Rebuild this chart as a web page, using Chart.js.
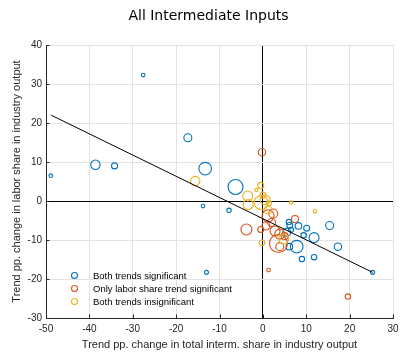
<!DOCTYPE html>
<html>
<head>
<meta charset="utf-8">
<script src="https://cdn.jsdelivr.net/npm/chart.js@4/dist/chart.umd.min.js"></script>
<style>
html,body{margin:0;padding:0;background:#fff;}
#wrap{width:401px;height:352px;position:relative;}
</style>
</head>
<body>
<div id="wrap"><canvas id="c" width="401" height="352"></canvas></div>
<script>
// ---- data ----
const chartTitle = "All Intermediate Inputs";
const xTitle = "Trend pp. change in total interm. share in industry output";
const yTitle = "Trend pp. change in labor share in industry output";
const seriesLabels = ["Both trends significant", "Only labor share trend significant", "Both trends insignificant"];
const seriesColors = ["#0072BD", "#D95319", "#EDB120"];

// Both trends significant
const sigX = [-48.9, -27.6, -17.3, -38.6, -34.2, -13.3, -13.8, -6.3, -7.8, 6.0, 6.2, 8.2, 10.1, 15.4, 6.5, 9.4, 11.8, 7.8, 6.1, 17.3, 9.0, 11.8, -13.0, 25.3, 5.5];
const sigY = [6.5, 32.3, 16.2, 9.3, 9.0, 8.3, -1.3, 3.6, -2.4, -5.4, -6.2, -6.4, -7.0, -6.3, -7.4, -8.8, -9.4, -11.7, -11.7, -11.7, -14.9, -14.4, -18.3, -18.3, -8.0];
const sigSize = [1.8, 1.8, 4.0, 4.7, 3.0, 6.3, 1.8, 7.5, 2.2, 2.7, 3.0, 3.3, 3.0, 4.0, 2.5, 2.7, 5.0, 6.3, 3.3, 3.7, 2.7, 2.7, 2.0, 2.0, 4.0];

// Only labor share trend significant
const labX = [-0.2, 2.4, 1.2, 7.4, 0.7, -3.8, -0.5, 2.8, 3.9, 3.6, 3.9, 1.3, 19.6, 5.0, 2.0];
const labY = [12.5, -3.2, -3.8, -4.6, -6.4, -7.3, -7.3, -7.7, -8.5, -10.9, -11.7, -17.7, -24.5, -9.0, -5.5];
const labSize = [3.7, 4.5, 6.0, 3.5, 4.0, 5.5, 3.0, 5.0, 5.0, 9.0, 4.0, 1.8, 2.7, 3.5, 4.0];

// Both trends insignificant
const insX = [-15.6, -0.5, -1.5, -3.5, -3.4, -0.4, 0.5, 1.4, 6.5, 12.0, 1.2, 4.8, -0.2, 0.0];
const insY = [5.1, 4.0, 2.8, 1.3, -0.9, -0.4, 0.3, -0.6, -0.4, -2.6, -2.3, -9.7, -10.7, 1.5];
const insSize = [4.7, 3.0, 1.7, 5.0, 5.0, 7.0, 5.0, 2.5, 1.7, 1.7, 4.0, 5.0, 2.7, 3.0];

// Fitted line end points
const fitX = [-48.8, 25.3];
const fitY = [22.0, -18.3];

const xMin = -50, xMax = 30, xStep = 10;
const yMin = -30, yMax = 40, yStep = 10;

// ---- build ----
function pts(xs, ys, rs) { return xs.map((x, i) => ({x: x, y: ys[i], r: rs[i]})); }
const AXIS = '#262626';
const GRID = '#e3e3e3';

const bubbleSets = [
  [sigX, sigY, sigSize],
  [labX, labY, labSize],
  [insX, insY, insSize]
].map((s, i) => ({
  type: 'bubble',
  label: seriesLabels[i],
  data: pts(s[0], s[1], s[2]),
  borderColor: seriesColors[i],
  backgroundColor: 'rgba(0,0,0,0)',
  borderWidth: 1.1,
  order: 3 - i
}));

const fitSet = {
  type: 'line', label: 'fit',
  data: fitX.map((x, i) => ({x: x, y: fitY[i]})),
  borderColor: '#000', borderWidth: 1, pointRadius: 0, fill: false, order: 0
};

const innerTicks = {
  id: 'innerTicks',
  afterDraw(chart) {
    const {ctx, chartArea: a, scales: {x, y}} = chart;
    ctx.save();
    ctx.strokeStyle = AXIS;
    ctx.lineWidth = 1;
    ctx.beginPath();
    x.ticks.forEach(t => {
      const px = Math.round(x.getPixelForValue(t.value)) + 0.5;
      ctx.moveTo(px, a.bottom); ctx.lineTo(px, a.bottom - 3.5);
    });
    y.ticks.forEach(t => {
      const py = Math.round(y.getPixelForValue(t.value)) + 0.5;
      ctx.moveTo(a.left, py); ctx.lineTo(a.left + 3.5, py);
    });
    ctx.stroke();
    ctx.restore();
  }
};

const legendIn = {
  id: 'legendIn',
  afterDraw(chart) {
    const {ctx} = chart;
    ctx.save();
    ctx.font = '9.5px "Liberation Sans", Arial, sans-serif';
    ctx.textBaseline = 'middle';
    ctx.textAlign = 'left';
    const ys = [275.5, 288.5, 301.5];
    seriesLabels.forEach((lab, i) => {
      ctx.strokeStyle = seriesColors[i];
      ctx.lineWidth = 1.1;
      ctx.beginPath();
      ctx.arc(74.5, ys[i], 3, 0, Math.PI * 2);
      ctx.stroke();
      ctx.fillStyle = '#000';
      ctx.fillText(lab, 93, ys[i] + 0.5);
    });
    ctx.restore();
  }
};

const titleShift = {
  id: 'titleShift',
  afterLayout(chart) {
    if (chart.titleBlock) { chart.titleBlock.left += 24; }
  }
};

new Chart(document.getElementById('c'), {
  data: { datasets: [...bubbleSets, fitSet] },
  options: {
    responsive: false, animation: false, events: [],
    layout: { autoPadding: false, padding: { left: 0, right: 8, top: 0, bottom: 0 } },
    plugins: {
      legend: { display: false }, tooltip: { enabled: false },
      title: { display: true, text: chartTitle, color: '#000',
        font: { family: '"DejaVu Sans", sans-serif', size: 14, weight: 'normal', lineHeight: 1.2 },
        padding: { top: 7.6, bottom: 20.6 } }
    },
    scales: {
      x: { type: 'linear', min: xMin, max: xMax,
        afterFit: s => { s.height = 34; s.paddingLeft = 0; s.paddingRight = 0; },
        ticks: { stepSize: xStep, color: AXIS, padding: 5, font: { family: '"Liberation Sans", Arial, sans-serif', size: 10 } },
        grid: { drawTicks: false, color: c => (c.tick && c.tick.value === 0) ? '#000' : GRID },
        border: { display: true, color: AXIS, width: 1 },
        title: { display: true, text: xTitle, color: AXIS, padding: { top: 0, bottom: 0 },
          font: { family: '"Liberation Sans", Arial, sans-serif', size: 11, lineHeight: 1.2 } } },
      y: { type: 'linear', min: yMin, max: yMax,
        afterFit: s => { s.width = 46; s.paddingTop = 0; s.paddingBottom = 0; },
        ticks: { stepSize: yStep, color: AXIS, padding: 4, font: { family: '"Liberation Sans", Arial, sans-serif', size: 10 } },
        grid: { drawTicks: false, color: c => (c.tick && c.tick.value === 0) ? '#000' : GRID },
        border: { display: true, color: AXIS, width: 1 },
        title: { display: true, text: yTitle, color: AXIS, padding: { top: 10, bottom: 0 },
          font: { family: '"Liberation Sans", Arial, sans-serif', size: 11, lineHeight: 1.2 } } }
    }
  },
  plugins: [innerTicks, legendIn, titleShift]
});
</script>
</body>
</html>
